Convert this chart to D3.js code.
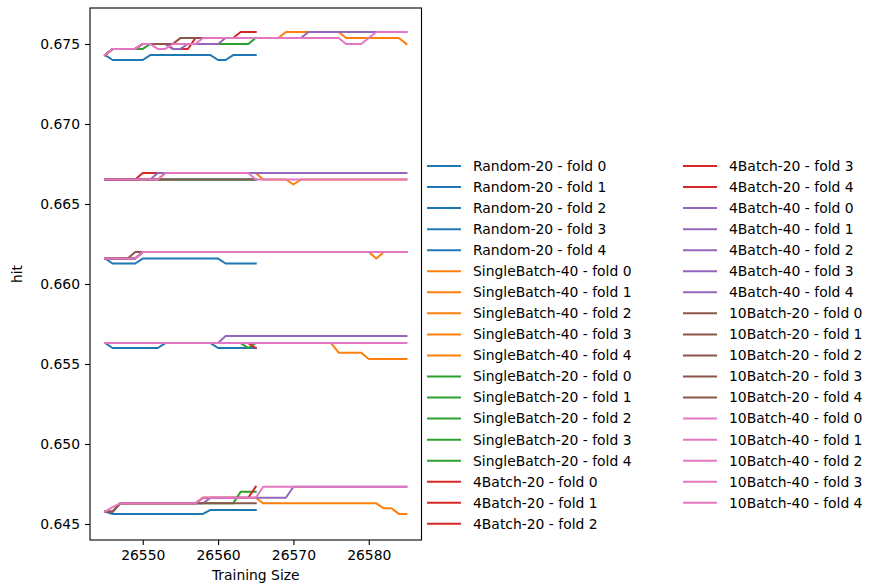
<!DOCTYPE html>
<html>
<head>
<meta charset="utf-8">
<script src="https://cdn.jsdelivr.net/npm/d3@7"></script>
<style>
  body { margin: 0; background: #fff; }
  text { font-family: "DejaVu Sans", sans-serif; }
</style>
</head>
<body>
<div id="viz"></div>
<script>
const methods = ["Random-20", "SingleBatch-40", "SingleBatch-20", "4Batch-20", "4Batch-40", "10Batch-20", "10Batch-40"];
const methodColors = ["#1f77b4", "#ff7f0e", "#2ca02c", "#d62728", "#9467bd", "#8c564b", "#e377c2"];
const lastSize = [26565, 26585, 26565, 26565, 26585, 26565, 26585];
const firstSize = 26545;
const folds = [0, 1, 2, 3, 4];

const xTicks = [26550, 26560, 26570, 26580];
const yTicks = [0.645, 0.650, 0.655, 0.660, 0.665, 0.670, 0.675];

// each fold: [training size where value changes, hit] -- value held until next change
const random20 = [
  [[26545, 0.67431], [26546, 0.67400], [26551, 0.67431], [26560, 0.67400], [26562, 0.67431]],
  [[26545, 0.66653]],
  [[26545, 0.66159], [26546, 0.66128], [26550, 0.66159], [26561, 0.66128]],
  [[26545, 0.65631], [26546, 0.65600], [26553, 0.65631], [26560, 0.65600]],
  [[26545, 0.64577], [26546, 0.64563], [26559, 0.64588]]
];
const singleBatch40 = [
  [[26545, 0.67431], [26546, 0.67469], [26550, 0.67500], [26555, 0.67538], [26569, 0.67575], [26577, 0.67538], [26585, 0.67500]],
  [[26545, 0.66653], [26553, 0.66694], [26566, 0.66653], [26570, 0.66622], [26571, 0.66653]],
  [[26545, 0.66159], [26550, 0.66200], [26581, 0.66159], [26582, 0.66200]],
  [[26545, 0.65631], [26576, 0.65571], [26580, 0.65531]],
  [[26545, 0.64577], [26547, 0.64629], [26558, 0.64664], [26566, 0.64629], [26582, 0.64598], [26584, 0.64563]]
];
const singleBatch20 = [
  [[26545, 0.67431], [26546, 0.67469], [26551, 0.67500], [26565, 0.67538]],
  [[26545, 0.66653]],
  [[26545, 0.66159], [26550, 0.66200]],
  [[26545, 0.65631], [26564, 0.65600], [26565, 0.65631]],
  [[26545, 0.64577], [26547, 0.64629], [26563, 0.64702]]
];
const batch4x20 = [
  [[26545, 0.67431], [26546, 0.67469], [26550, 0.67500], [26554, 0.67469], [26557, 0.67538], [26563, 0.67575]],
  [[26545, 0.66653], [26550, 0.66694]],
  [[26545, 0.66159], [26550, 0.66200]],
  [[26545, 0.65631], [26565, 0.65600]],
  [[26545, 0.64577], [26547, 0.64629], [26558, 0.64664], [26565, 0.64733]]
];
const batch4x40 = [
  [[26545, 0.67431], [26546, 0.67469], [26550, 0.67500], [26554, 0.67469], [26556, 0.67500], [26561, 0.67538], [26572, 0.67575]],
  [[26545, 0.66653], [26552, 0.66694]],
  [[26545, 0.66159], [26550, 0.66200]],
  [[26545, 0.65631], [26561, 0.65675]],
  [[26545, 0.64577], [26547, 0.64629], [26559, 0.64664], [26570, 0.64733]]
];
const batch10x20 = [
  [[26545, 0.67431], [26546, 0.67469], [26550, 0.67500], [26555, 0.67538]],
  [[26545, 0.66653]],
  [[26545, 0.66159], [26549, 0.66200]],
  [[26545, 0.65631]],
  [[26545, 0.64577], [26547, 0.64629]]
];
const batch10x40 = [
  [[26545, 0.67431], [26546, 0.67469], [26550, 0.67500], [26552, 0.67469], [26554, 0.67500], [26558, 0.67538], [26577, 0.67500], [26580, 0.67538], [26581, 0.67575]],
  [[26545, 0.66653], [26553, 0.66694], [26565, 0.66653]],
  [[26545, 0.66159], [26550, 0.66200]],
  [[26545, 0.65631]],
  [[26545, 0.64577], [26546, 0.64606], [26547, 0.64629], [26558, 0.64664], [26566, 0.64733]]
];
const methodRuns = [random20, singleBatch40, singleBatch20, batch4x20, batch4x40, batch10x20, batch10x40];

const width = 884;
const height = 587;
const plot = { left: 90, right: 421.5, top: 8, bottom: 540 };

// expand the change points into one point per training size
const expandRuns = (runs, last) => {
  const points = [];
  for (let size = firstSize; size <= last; size++) {
    let hit = runs[0][1];
    for (const r of runs) if (r[0] <= size) hit = r[1];
    points.push({ size: size, hit: hit });
  }
  return points;
};

const series = [];
methods.forEach((m, mi) => {
  folds.forEach(f => {
    series.push({
      label: `${m} - fold ${f}`,
      color: methodColors[mi],
      points: expandRuns(methodRuns[mi][f], lastSize[mi])
    });
  });
});

const x = d3.scaleLinear().domain([26543, 26587]).range([plot.left, plot.right]);
const y = d3.scaleLinear().domain([0.644, 0.67725]).range([plot.bottom, plot.top]);

const svg = d3.select("#viz")
  .append("svg")
  .attr("width", width)
  .attr("height", height)
  .attr("viewBox", [0, 0, width, height]);

svg.append("defs").append("clipPath").attr("id", "clip")
  .append("rect")
  .attr("x", plot.left).attr("y", plot.top)
  .attr("width", plot.right - plot.left).attr("height", plot.bottom - plot.top);

const line = d3.line().x(d => x(d.size)).y(d => y(d.hit));

svg.append("g")
  .attr("clip-path", "url(#clip)")
  .selectAll("path")
  .data(series)
  .join("path")
  .attr("d", d => line(d.points))
  .attr("fill", "none")
  .attr("stroke", d => d.color)
  .attr("stroke-width", 2)
  .attr("stroke-linejoin", "round")
  .attr("stroke-linecap", "square");

const xAxis = svg.append("g")
  .attr("transform", `translate(0,${plot.bottom})`)
  .call(d3.axisBottom(x).tickValues(xTicks).tickFormat(d3.format("d")).tickSize(5).tickPadding(5));
const yAxis = svg.append("g")
  .attr("transform", `translate(${plot.left},0)`)
  .call(d3.axisLeft(y).tickValues(yTicks).tickFormat(d3.format(".3f")).tickSize(5).tickPadding(5));

[xAxis, yAxis].forEach(a => {
  a.select(".domain").remove();
  a.selectAll("line").attr("stroke", "#000").attr("stroke-width", 1.1);
  a.selectAll("text").attr("fill", "#000").style("font-size", "13.9px").style("font-family", "'DejaVu Sans', sans-serif");
});

svg.append("rect")
  .attr("x", plot.left).attr("y", plot.top)
  .attr("width", plot.right - plot.left).attr("height", plot.bottom - plot.top)
  .attr("fill", "none").attr("stroke", "#000").attr("stroke-width", 1.1);

svg.append("text")
  .attr("x", (plot.left + plot.right) / 2).attr("y", 580)
  .attr("text-anchor", "middle").style("font-size", "13.9px")
  .text("Training Size");
svg.append("text")
  .attr("transform", `translate(22,${(plot.top + plot.bottom) / 2}) rotate(-90)`)
  .attr("text-anchor", "middle").style("font-size", "13.9px")
  .text("hit");

// legend: two columns, 18 entries in the first
const perCol = 18;
const rowGap = 21.05;
const legend = svg.append("g");
const items = legend.selectAll("g")
  .data(series)
  .join("g")
  .attr("transform", (d, i) => `translate(${i < perCol ? 427 : 683},${166 + (i % perCol) * rowGap})`);
items.append("line")
  .attr("x1", 0).attr("x2", 34)
  .attr("stroke", d => d.color).attr("stroke-width", 2);
items.append("text")
  .attr("x", 46).attr("dy", "0.35em")
  .style("font-size", "13.9px")
  .text(d => d.label);
</script>
</body>
</html>
